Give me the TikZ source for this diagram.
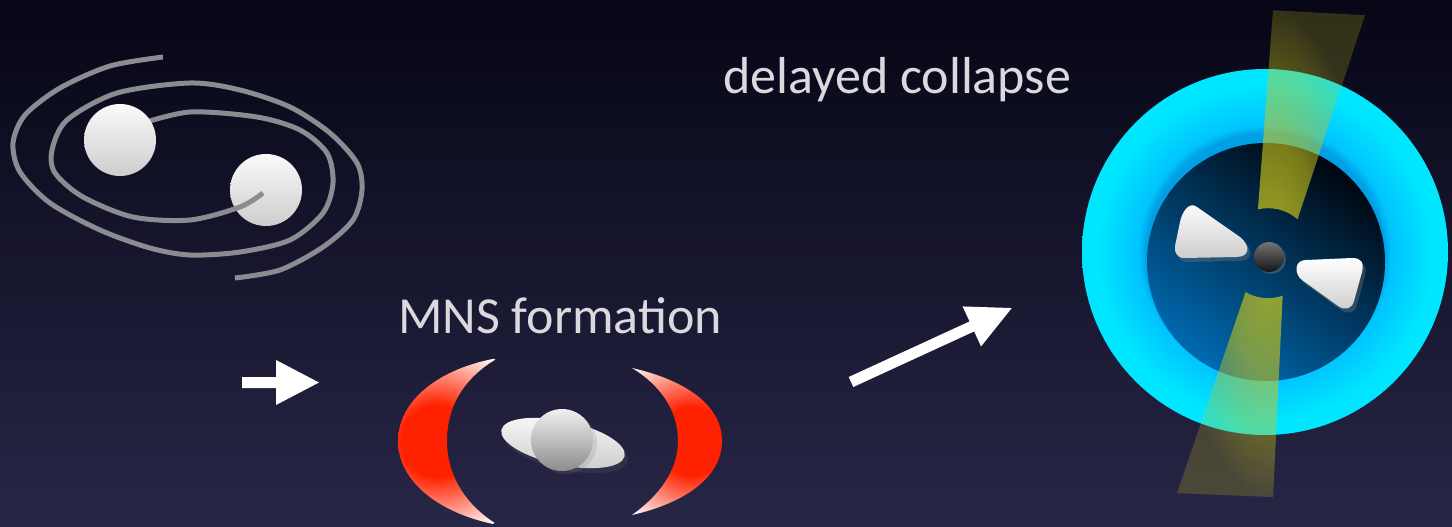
\documentclass[tikz,border=0pt]{standalone}
\usepackage{fontspec}
\setmainfont{Carlito}
\usetikzlibrary{shadows,fadings}

\definecolor{bgtop}{RGB}{6,6,22}
\definecolor{bgbot}{RGB}{40,38,70}
\definecolor{trail}{RGB}{138,140,146}
\definecolor{labelgray}{RGB}{218,218,222}
\definecolor{flare}{RGB}{255,34,0}
\definecolor{cyanin}{RGB}{0,196,255}
\definecolor{cyanout}{RGB}{0,230,255}
\definecolor{cyanshadow}{RGB}{0,160,228}
\definecolor{coretop}{RGB}{0,6,14}
\definecolor{coremid}{RGB}{0,44,88}
\definecolor{corebot}{RGB}{0,106,178}
\definecolor{jet}{RGB}{205,200,25}
\definecolor{startop}{RGB}{250,250,250}
\definecolor{starbot}{RGB}{205,205,205}
\definecolor{spheretop}{RGB}{240,240,240}
\definecolor{spherebot}{RGB}{140,140,140}

% radii below: 25bp is the edge of the shaded path
% flare colour of the crescents: red core fading to white
\pgfdeclareradialshading{flareshade}{\pgfpointorigin}{%
  color(0bp)=(flare); color(9bp)=(flare); color(25bp)=(white); color(50bp)=(white)}
% cyan torus, slightly darker just outside the core
\pgfdeclareradialshading{ringshade}{\pgfpointorigin}{%
  color(0bp)=(cyanshadow); color(16.2bp)=(cyanshadow); color(17.3bp)=(cyanin);
  color(23bp)=(cyanout); color(50bp)=(cyanout)}
% jet opacity falls off away from the centre
\pgfdeclareradialshading{beamshade}{\pgfpointorigin}{%
  color(0bp)=(white!75!black); color(5bp)=(white!70!black);
  color(12.5bp)=(white!58!black); color(18.5bp)=(white!40!black);
  color(25bp)=(white!22!black); color(50bp)=(white!22!black)}
\pgfdeclarefading{beamfade}{\pgfuseshading{beamshade}}

\tikzset{
  orbit/.style={draw=trail, line width=5pt, line cap=butt},
  star/.style={top color=startop, bottom color=starbot},
  label/.style={font=\fontsize{52}{60}\selectfont, text=labelgray, inner sep=0pt},
  whitearrow/.style={fill=white},
  blob/.style={top color=white, bottom color=starbot,
    drop shadow={shadow xshift=3pt, shadow yshift=-4pt, opacity=0.35}},
}

\begin{document}
\begin{tikzpicture}[x=1pt, y=-1pt]
  % sky
  \shade[top color=bgtop, bottom color=bgbot] (0,0) rectangle (1452,527);
  \useasboundingbox (0,0) rectangle (1452,527);

  % ---------- binary inspiral ----------
  \path[star] (266,190) circle (36);
  \draw[orbit] plot[smooth] coordinates {(163,57) (110,66) (60,88) (25,115) (13,143)
    (20,172) (50,203) (100,230) (150,248) (190,255) (240,252) (290,240) (323,213)
    (333,183) (327,153) (300,130) (257,117) (190,112) (140,124)};
  \draw[orbit] plot[smooth] coordinates {(263,193) (240,207) (190,220) (133,217)
    (83,197) (55,173) (52,150) (67,120) (117,93) (190,83) (240,90) (290,107)
    (330,133) (357,163) (362,190) (353,220) (323,247) (280,270) (235,278)};
  \path[star] (120,140) circle (36);

  % ---------- arrows ----------
  \fill[whitearrow] (242,377) -- (276,377) -- (276,360) -- (319,382.5)
    -- (276,405) -- (276,388) -- (242,388) -- cycle;
  \begin{scope}[shift={(851,382)}, rotate=24.7]
    \fill[whitearrow] (0,-5.5) -- (133,-5.5) -- (133,-22) -- (177,0)
      -- (133,22) -- (133,5.5) -- (0,5.5) -- cycle;
  \end{scope}

  % ---------- labels ----------
  \node[label, anchor=base west] (mnslabel) at (398,333) {MNS formation};
  \node[label, anchor=base west] (collapselabel) at (723,93) {delayed collapse};

  % ---------- MNS with ejecta ----------
  \begin{scope}
    \clip (498,358) .. controls (440,368) and (398,400) .. (398,441)
      .. controls (398,482) and (440,514) .. (498,525)
      .. controls (465,505) and (447,475) .. (447,441)
      .. controls (447,405) and (465,377) .. (498,358) -- cycle;
    \shade[shading=flareshade] (437,441) circle (100);
  \end{scope}
  \begin{scope}
    \clip (632,368) .. controls (685,380) and (722,405) .. (722,441)
      .. controls (722,477) and (685,503) .. (632,515)
      .. controls (660,495) and (678,470) .. (678,441)
      .. controls (678,410) and (660,385) .. (632,368) -- cycle;
    \shade[shading=flareshade] (692,441) circle (95);
  \end{scope}
  \path[rotate around={-12:(563,443)}, top color=white!95!gray, bottom color=gray!40,
    drop shadow={shadow xshift=3pt, shadow yshift=-5pt, opacity=0.15}]
    (563,443) ellipse [x radius=63, y radius=22];
  \path[top color=spheretop, bottom color=spherebot,
    drop shadow={shadow xshift=4pt, shadow yshift=-3pt, opacity=0.2}]
    (562,440) circle (31);

  % ---------- collapsed remnant ----------
  \shade[shading=ringshade] (1265,252) circle (183);
  \shade[top color=coretop, middle color=coremid, bottom color=corebot, shading angle=-35]
    (1266,262) circle (119);
  \fill[jet, path fading=beamfade]
    (1273,10) -- ([shift={(1268,253)}]-103:45) arc[start angle=-103, end angle=-49, radius=45]
      -- (1365,15) -- cycle
    (1177,493) -- ([shift={(1268,253)}]120:45) arc[start angle=120, end angle=71, radius=45]
      -- (1273,497) -- cycle;
  % fragments: rounded triangles
  \path[blob] (1197,207) -- (1240,237)
    .. controls (1251,246) and (1250,257) .. (1236,257) -- (1184,258)
    .. controls (1177,258) and (1174,252) .. (1175,246) -- (1180,222)
    .. controls (1182,212) and (1189,201) .. (1197,207) -- cycle;
  \path[blob] (1306,260) -- (1352,258)
    .. controls (1362,258) and (1364,263) .. (1362,272) -- (1354,301)
    .. controls (1352,309) and (1345,311) .. (1338,306) -- (1302,280)
    .. controls (1294,274) and (1294,260) .. (1306,260) -- cycle;
  \path[top color=black!55, bottom color=black!92,
    drop shadow={shadow xshift=2pt, shadow yshift=-2pt, opacity=0.4}]
    (1269,257) circle (15);
\end{tikzpicture}
\end{document}
